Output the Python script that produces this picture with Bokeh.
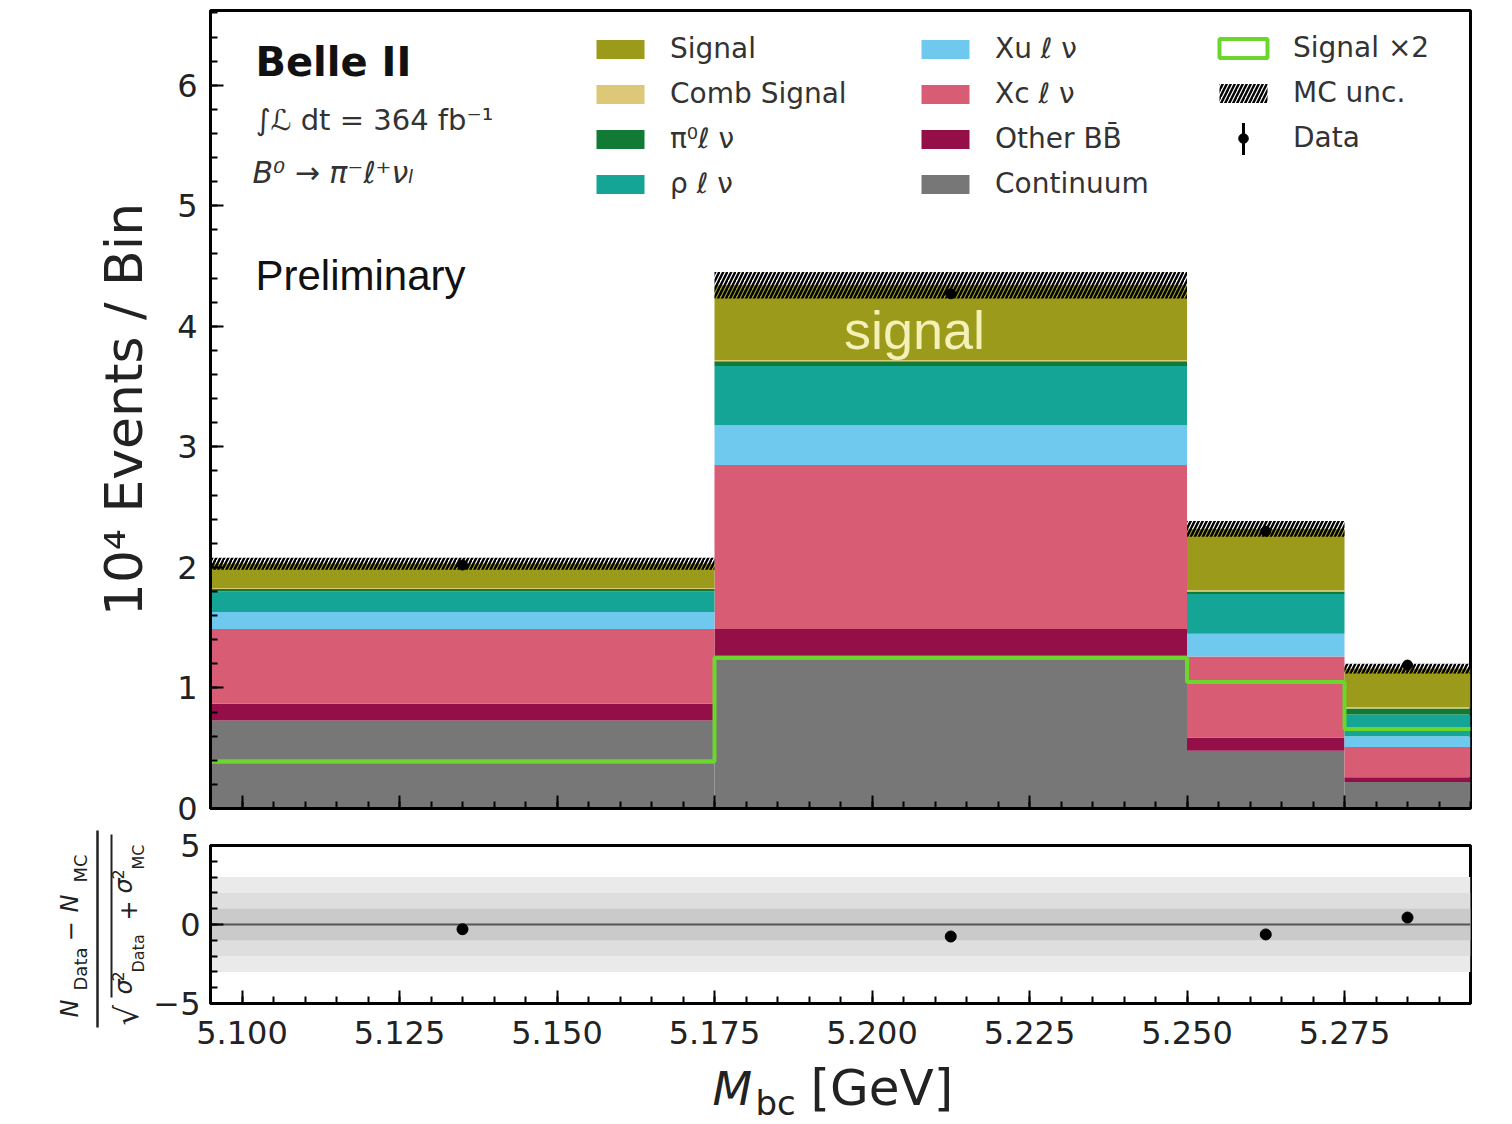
import numpy as np
from bokeh.plotting import figure
from bokeh.layouts import column, row
from bokeh.models import (Legend, LegendItem, Label, Arrow, FixedTicker,
                          NumeralTickFormatter, Range1d, BoxAnnotation, Span,
                          CustomJSTickFormatter)
from bokeh.core.properties import value
from bokeh.embed import file_html
from bokeh.resources import INLINE

# ---------------- data (units of 10^4 events per bin) ----------------
bin_edges = [5.095, 5.175, 5.250, 5.275, 5.295]
continuum = [0.73, 1.25, 0.48, 0.22]
other_bb = [0.14, 0.24, 0.11, 0.04]
xc_lnu = [0.62, 1.36, 0.67, 0.25]
xu_lnu = [0.14, 0.33, 0.19, 0.09]
rho_lnu = [0.17, 0.49, 0.33, 0.18]
pi0_lnu = [0.02, 0.04, 0.02, 0.05]
comb_signal = [0.01, 0.01, 0.01, 0.01]
signal = [0.20, 0.62, 0.51, 0.32]
signal_x2 = [0.39, 1.25, 1.05, 0.66]
mc_unc = [0.05, 0.11, 0.065, 0.04]
data_val = [2.02, 4.27, 2.30, 1.19]
data_err = [0.014, 0.021, 0.015, 0.011]
pull_val = [-0.30, -0.76, -0.63, 0.44]

x_ticks = [5.100, 5.125, 5.150, 5.175, 5.200, 5.225, 5.250, 5.275]
y_ticks = [0, 1, 2, 3, 4, 5, 6]
pull_ticks = [-5, 0, 5]

# ---------------- style ----------------
C_SIG = "#9c9a1a"
C_COMB = "#dcc877"
C_PI0 = "#117a35"
C_RHO = "#14a596"
C_XU = "#6fc9ee"
C_XC = "#d95c75"
C_OBB = "#940f48"
C_CONT = "#777777"
C_SX2 = "#6bd62c"
TXT = "#222222"
BASE_SHIFT = 0.35   # renderer places 'alphabetic' text ~0.35 em below the anchor

FL, FW, FR = 210, 1260, 30
TOTAL_W = FL + FW + FR
MT, MH, MB = 10, 798, 20
PT, PH, PB = 17, 158, 57
WL = 148            # width of the pull y-label canvas
XLAB_H = 63         # height of the x-label canvas
Y_MAX = 6.62
XLO, XHI = bin_edges[0], bin_edges[-1]

MAIN_BOTTOM_PX = MT + MH
ROW_TOP_PX = MT + MH + MB
XLAB_TOP_PX = ROW_TOP_PX + PT + PH + PB


def X(px):
    return XLO + (px - FL) * (XHI - XLO) / FW


def YM(py):
    return (MAIN_BOTTOM_PX - py) * Y_MAX / MH


x_minor = [round(XLO + 0.005 * i, 3) for i in range(int(round((XHI - XLO) / 0.005)) + 1)]


def style_axes(fig):
    fig.grid.visible = False
    fig.outline_line_color = "black"
    fig.outline_line_width = 3
    for ax in fig.axis:
        ax.axis_line_color = "black"
        ax.axis_line_width = 3
        ax.major_tick_in = 13
        ax.major_tick_out = 0
        ax.minor_tick_in = 7
        ax.minor_tick_out = 0
        ax.major_tick_line_width = 2
        ax.minor_tick_line_width = 2
        ax.major_tick_line_color = "black"
        ax.minor_tick_line_color = "black"
        ax.major_label_text_font = "DejaVu Sans"
        ax.major_label_text_font_size = "32px"
        ax.major_label_text_color = TXT
        ax.major_label_standoff = 13


# ---------------- main figure ----------------
p = figure(width=TOTAL_W, height=MT + MH + MB,
           x_range=Range1d(XLO, XHI), y_range=Range1d(0, Y_MAX),
           output_backend="svg", toolbar_location=None, title=None,
           min_border_left=FL, min_border_right=FR,
           min_border_top=MT, min_border_bottom=MB,
           background_fill_color="white", border_fill_color="white")
p.frame_align = False
style_axes(p)
p.xaxis.ticker = FixedTicker(ticks=x_ticks, minor_ticks=x_minor)
p.xaxis.formatter = CustomJSTickFormatter(code="return ''")
p.xaxis.major_label_standoff = 0
p.yaxis.ticker = FixedTicker(ticks=y_ticks, minor_ticks=[round(0.2 * i, 1) for i in range(34)])
p.yaxis.axis_label = "10⁴ Events / Bin"
p.yaxis.axis_label_text_font = "DejaVu Sans"
p.yaxis.axis_label_text_font_size = "52px"
p.yaxis.axis_label_text_font_style = "normal"
p.yaxis.axis_label_text_color = TXT
p.yaxis.axis_label_standoff = 20

lefts = bin_edges[:-1]
rights = bin_edges[1:]
centers = [(a + b) / 2 for a, b in zip(lefts, rights)]

components = [
    ("Continuum", continuum, C_CONT),
    ("Other BB̄", other_bb, C_OBB),
    ("Xc ℓ ν", xc_lnu, C_XC),
    ("Xu ℓ ν", xu_lnu, C_XU),
    ("ρ ℓ ν", rho_lnu, C_RHO),
    ("π⁰ℓ ν", pi0_lnu, C_PI0),
    ("Comb Signal", comb_signal, C_COMB),
    ("Signal", signal, C_SIG),
]
rend = {}
bottom = np.zeros(len(lefts))
for name, vals, col in components:
    top = bottom + np.array(vals, dtype=float)
    rend[name] = p.quad(left=lefts, right=rights, bottom=bottom, top=top,
                        fill_color=col, line_color=None)
    bottom = top
total = bottom

# signal x2: horizontal parts as flat outlined quads (box legend glyph), joins from a step line
p.step(x=bin_edges, y=signal_x2 + [signal_x2[-1]], mode="after",
       line_color=C_SX2, line_width=4)
r_sx2 = p.quad(left=lefts, right=rights, bottom=signal_x2, top=signal_x2,
               fill_color=None, line_color=C_SX2, line_width=4)

# MC uncertainty hatch
unc = np.array(mc_unc)
r_unc = p.quad(left=lefts, right=rights, bottom=total - unc, top=total + unc,
               fill_color=None, line_color=None, hatch_pattern="/",
               hatch_color="black", hatch_weight=2.4, hatch_scale=8)

# data
dv = np.array(data_val)
de = np.array(data_err)
p.segment(x0=centers, y0=dv - de, x1=centers, y1=dv + de,
          line_color="black", line_width=2)
r_data = p.scatter(x=centers, y=data_val, size=10, color="black")

LEG_KW = dict(orientation="vertical", background_fill_alpha=0, border_line_alpha=0,
              padding=0, margin=0, spacing=12, glyph_width=60, glyph_height=24,
              label_height=31, label_standoff=20, label_text_font="DejaVu Sans",
              label_text_font_size="28px", label_text_color="#333333")

LEG_A_X, LEG_B_X, LEG_C_X = 380, 705, 1003
legA = Legend(items=[LegendItem(label=value("Signal"), renderers=[rend["Signal"]]),
                     LegendItem(label=value("Comb Signal"), renderers=[rend["Comb Signal"]]),
                     LegendItem(label=value("π⁰ℓ ν"), renderers=[rend["π⁰ℓ ν"]]),
                     LegendItem(label=value("ρ ℓ ν"), renderers=[rend["ρ ℓ ν"]])],
              location=(LEG_A_X, 608), **LEG_KW)
legB = Legend(items=[LegendItem(label=value("Xu ℓ ν"), renderers=[rend["Xu ℓ ν"]]),
                     LegendItem(label=value("Xc ℓ ν"), renderers=[rend["Xc ℓ ν"]]),
                     LegendItem(label=value("Other BB̄"), renderers=[rend["Other BB̄"]]),
                     LegendItem(label=value("Continuum"), renderers=[rend["Continuum"]])],
              location=(LEG_B_X, 608), **LEG_KW)
legC = Legend(items=[LegendItem(label=value("Signal ×2"), renderers=[r_sx2]),
                     LegendItem(label=value("MC unc."), renderers=[r_unc]),
                     LegendItem(label=value("Data"), renderers=[r_data])],
              location=(LEG_C_X, 654), **LEG_KW)
for lg in (legA, legB, legC):
    p.add_layout(lg)

# vertical error-bar stroke of the "Data" legend key (third row of legend C)
key_cx = FL + LEG_C_X + 30
key_cy = 32 + 2 * 45 + 16.5
p.add_layout(BoxAnnotation(left=X(key_cx - 1.5), right=X(key_cx + 1.5),
                           bottom=YM(key_cy + 16), top=YM(key_cy - 16),
                           fill_color="black", fill_alpha=1, line_color=None))


def add_label(fig, x, y, text, size, font="DejaVu Sans", style="normal",
              color=TXT, align="left", angle=0.0):
    fig.add_layout(Label(x=x, y=y, text=text, angle=angle,
                         text_align=align, text_baseline="alphabetic",
                         text_font=font, text_font_size=f"{size}px",
                         text_font_style=style, text_color=color))


def main_text(px, base_py, text, size, **kw):
    add_label(p, X(px), YM(base_py - BASE_SHIFT * size), text, size, **kw)


main_text(255, 75, "Belle II", 40, style="bold", color="#111111")
main_text(255, 130, "∫ℒ dt = 364 fb⁻¹", 29, color="#333333")
main_text(252, 182, "B⁰ → π⁻ℓ⁺νₗ", 30, style="italic", color="#333333")
main_text(255, 290, "Preliminary", 42, font="Liberation Sans", color="#111111")
main_text(914, 348, "signal", 54, font="Liberation Sans", color="#f4f1b8", align="center")

# ---------------- pull figure ----------------
p2 = figure(width=TOTAL_W - WL, height=PT + PH + PB,
            x_range=p.x_range, y_range=Range1d(-5, 5),
            output_backend="svg", toolbar_location=None, title=None,
            min_border_left=FL - WL, min_border_right=FR,
            min_border_top=PT, min_border_bottom=PB,
            background_fill_color="white", border_fill_color="white")
p2.frame_align = False
style_axes(p2)
p2.xaxis.ticker = FixedTicker(ticks=x_ticks, minor_ticks=x_minor)
p2.xaxis.formatter = NumeralTickFormatter(format="0.000")
p2.xaxis.major_label_standoff = 17
p2.yaxis.ticker = FixedTicker(ticks=pull_ticks, minor_ticks=list(range(-5, 6)))
p2.yaxis.major_label_overrides = {-5: "−5", 0: "0", 5: "5"}
p2.yaxis.major_label_standoff = 10

for lim, col in [(3, "#eaeaea"), (2, "#dedede"), (1, "#cacaca")]:
    p2.add_layout(BoxAnnotation(bottom=-lim, top=lim, fill_color=col, fill_alpha=1,
                                line_color=None, level="underlay"))
p2.add_layout(Span(location=0, dimension="width", line_color="#555555",
                   line_width=2, level="underlay"))
p2.scatter(x=centers, y=pull_val, size=11, color="black")


# ---------------- label canvases (pixel coordinates, y downward) ----------------
def canvas(w, h):
    f = figure(width=w, height=h, x_range=Range1d(0, w), y_range=Range1d(h, 0),
               output_backend="svg", toolbar_location=None, title=None,
               x_axis_location=None, y_axis_location=None, min_border=0,
               min_border_left=0, min_border_right=0, min_border_top=0,
               min_border_bottom=0,
               background_fill_color="white", border_fill_color="white")
    f.frame_align = False
    f.grid.visible = False
    f.outline_line_color = None
    return f


# pull y label: (N_Data - N_MC) / sqrt(sigma_Data^2 + sigma_MC^2), reading upward
ylab = canvas(WL, PT + PH + PB)
o = ROW_TOP_PX
R = np.pi / 2


def vtext(base_px, start_py, text, size, style="normal"):
    add_label(ylab, base_px - BASE_SHIFT * size, start_py - o, text, size,
              style=style, angle=R)


vtext(78, 1017, "N", 24, style="italic")
vtext(86, 990, "Data", 18)
vtext(78, 941, "−", 24)
vtext(78, 912, "N", 24, style="italic")
vtext(86, 882, "MC", 18)
ylab.add_layout(Arrow(end=None, start=None, x_start=97, y_start=1027 - o,
                      x_end=97, y_end=830 - o, line_color=TXT, line_width=2.5))
vtext(138, 1025, "√", 32)
ylab.add_layout(Arrow(end=None, start=None, x_start=111, y_start=997 - o,
                      x_end=111, y_end=834 - o, line_color=TXT, line_width=2))
vtext(132, 994, "σ", 24, style="italic")
vtext(123, 981, "2", 16)
vtext(144, 972, "Data", 16)
vtext(136, 920, "+", 24)
vtext(132, 893, "σ", 24, style="italic")
vtext(123, 879, "2", 16)
vtext(144, 869, "MC", 16)

# x axis label: M_bc [GeV]
xlab = canvas(TOTAL_W, XLAB_H)
q = XLAB_TOP_PX


def htext(px, base_py, text, size, style="normal"):
    add_label(xlab, px, base_py - BASE_SHIFT * size - q, text, size, style=style)


htext(712, 1105, "M", 46, style="italic")
htext(755, 1114, "bc", 34)
htext(810, 1105, "[GeV]", 50)

layout = column(p, row(ylab, p2), xlab)
open("out.html", "w").write(file_html(layout, INLINE))
